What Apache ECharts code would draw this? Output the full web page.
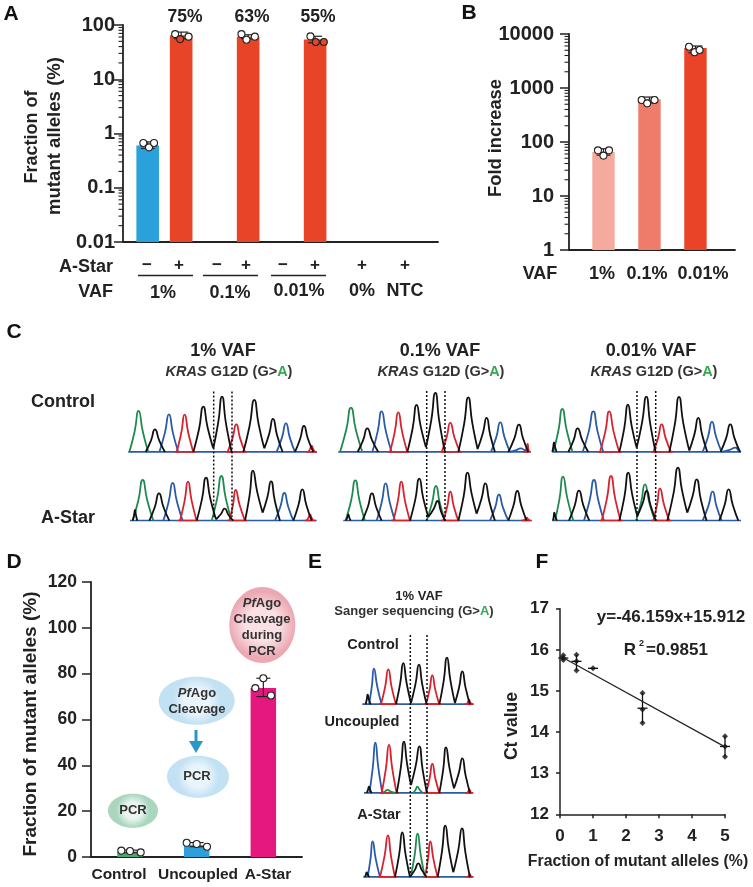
<!DOCTYPE html>
<html><head><meta charset="utf-8">
<style>html,body{margin:0;padding:0;background:#fff}#c{width:753px;height:887px}#c canvas{filter:blur(.3px)}</style>
<script src="https://cdn.jsdelivr.net/npm/echarts@6/dist/echarts.min.js"></script>
</head><body><div id="c"></div>
<script>
// ---------- Panel A ----------
const aBarX = [1, 2, 4, 6];
const aBarValues = [0.6, 64.5, 61, 54];
const aBarColors = ['#2ba1dc', '#e84427', '#e84427', '#e84427'];
const aErrors = [[1, 0.53, 0.7], [2, 56, 74], [4, 56, 66], [6, 47, 62]];
const aPointsWhite = [[0.87, 0.67], [1.04, 0.556], [1.19, 0.67], [1.82, 68], [2.22, 61], [3.8, 68], [3.95, 53.6], [4.2, 61], [5.86, 61.8]];
const aPointsFilled = [[1.97, 55], [6.02, 48.6], [6.26, 48.6]];
const aTickValues = [0.02,0.03,0.04,0.05,0.06,0.07,0.08,0.09,0.2,0.3,0.4,0.5,0.6,0.7,0.8,0.9,2,3,4,5,6,7,8,9,20,30,40,50,60,70,80,90];
const aPercentLabels = ['75%', '63%', '55%'];
const aSigns = ['−', '+', '−', '+', '−', '+', '+', '+'];
const aVaf = ['1%', '0.1%', '0.01%', '0%', 'NTC'];
// ---------- Panel B ----------
const bCategories = ['1%', '0.1%', '0.01%'];
const bBarValues = [65, 617, 5500];
const bBarColors = ['#f5aa9e', '#ef7c6b', '#e94328'];
const bErrors = [[1, 57, 75], [2, 530, 680], [3, 4500, 6000]];
const bPoints = [[0.88, 70], [1, 56], [1.12, 70], [1.83, 600], [1.95, 520], [2.11, 600], [2.86, 5800], [2.98, 4600], [3.09, 5060]];
const bTickValues = [2,3,4,5,6,7,8,9,20,30,40,50,60,70,80,90,200,300,400,500,600,700,800,900,2000,3000,4000,5000,6000,7000,8000,9000];
// ---------- Panel D ----------
const dCategories = ['Control', 'Uncoupled', 'A-Star'];
const dBarValues = [2.4, 5.2, 73.8];
const dBarColors = ['#4da672', '#2f9fdc', '#e5187f'];
const dErrors = [[1, 1.9, 3], [2, 4.5, 6.3], [3, 70, 78]];
const dPoints = [[0.87, 2.8], [1, 2.6], [1.16, 2.0], [1.85, 6.2], [2, 5.7], [2.155, 4.5], [2.88, 73.7], [3, 78], [3.115, 70.5]];
// ---------- Panel F ----------
const fPoints = [[0.1,15.75],[0.1,15.8],[0.1,15.87],[0.5,15.88],[0.5,15.72],[0.5,15.5],[1,15.55],[2.5,14.95],[2.5,14.55],[2.5,14.22],[5,13.9],[5,13.65],[5,13.4]];
const fMeans = [[0.1,15.8,15.75,15.87],[0.5,15.72,15.5,15.88],[1,15.55,15.55,15.55],[2.5,14.58,14.22,14.95],[5,13.65,13.4,13.9]];
const fFit = [[0,15.85],[5,13.64]];
// ---------- Chromatogram peaks: colour, left foot, apex, right foot, height, left level, right level ----------
const c1Control = [['g',3,31,60,124],['k',52,80,110,69],['b',93,122,150,114],['r',145,169,195,113],['k',195,225,255,137,0,12],['k',255,281,310,167,12,0],['r',298,324,350,84],['k',345,378,408,157,0,12],['k',408,434,463,100,12,0],['b',445,473,500,87],['k',500,527,555,79],['r',540,550,560,20]];
const c1Star = [['k',8,15,22,33],['g',8,38,70,123],['k',58,87,118,83],['b',100,128,158,114],['r',150,174,200,118],['k',200,228,258,130,0,5],['g',245,274,305,135],['k',258,284,310,37,5,0],['r',298,317,345,93],['k',345,369,398,151,0,25],['k',398,423,450,119,25,0],['b',435,463,490,84],['k',490,517,545,95],['r',530,540,550,20]];
const c2Control = [['g',5,38,72,134],['k',58,87,120,72],['b',102,130,160,123],['r',155,180,207,120],['k',207,235,263,142,0,15],['k',263,291,320,178,15,0],['r',310,336,365,88],['k',360,390,418,165,0,10],['k',418,445,470,103,10,0],['b',458,486,515,90],['k',510,542,570,83],['b',515,548,572,12],['r',560,568,572,25]];
const c2Star = [['k',8,15,22,20],['g',7,36,65,122],['k',57,86,115,83],['b',100,127,155,113],['r',150,174,200,118],['k',200,228,255,127,0,12],['g',250,278,305,105],['k',255,283,305,60,12,0],['r',300,321,345,88],['k',345,373,400,145,0,22],['k',400,426,455,113,22,0],['b',440,467,495,79],['k',495,522,550,90],['r',540,550,560,10]];
const c3Control = [['k',0,5,13,30],['g',3,30,61,130],['k',48,76,108,72],['b',91,123,153,123],['r',143,171,201,123],['k',201,227,253,143,0,14],['k',253,282,310,167,14,0],['r',303,328,356,84],['k',351,380,411,166,0,5],['k',411,438,465,103,5,0],['b',451,479,508,91],['k',505,534,563,84],['b',508,550,566,14]];
const c3Star = [['k',2,6,14,25],['g',8,32,63,133],['k',50,80,111,91],['b',95,125,155,123],['r',148,176,205,135],['k',201,228,255,145,0,15],['g',251,278,308,110],['k',255,283,311,90,15,0],['r',303,323,351,98],['k',345,377,405,160,0,25],['k',405,433,463,125,25,0],['b',451,481,508,88],['k',501,529,558,95]];
const eControl = [['k',10,16,25,30],['b',20,35,58,108],['r',56,78,101,106],['k',101,123,146,125,0,5],['k',146,170,193,120,5,0],['r',191,210,231,88],['k',231,254,278,141,0,5],['k',278,300,323,100,5,0],['r',313,320,328,15]];
const eUncoupled = [['k',8,15,23,20],['b',16,34,55,152],['r',53,75,98,145],['g',53,70,93,10],['k',98,120,141,155,0,25],['k',141,166,189,141,25,0],['g',148,160,176,20],['r',186,205,226,88],['k',226,246,270,138,0,15],['k',270,295,318,105,15,0],['r',310,316,322,12]];
const eStar = [['k',5,10,18,15],['b',13,28,50,108],['r',50,74,95,126],['k',95,117,140,135],['g',142,163,185,131],['k',140,165,190,42],['r',185,201,223,108],['k',223,246,270,155,0,15],['k',270,296,320,147,15,0],['r',314,319,325,10]];

const FONT = '"Liberation Sans", Arial, sans-serif';
const INK = '#222';
const traceColors = {g:'#1f8a4f', k:'#111111', b:'#2a5ba8', r:'#d8232e'};
const traces = [
 {peaks:c1Control, left:128.3, base:452.3, width:565},
 {peaks:c1Star, left:130, base:521, width:560},
 {peaks:c2Control, left:338.3, base:452.3, width:572},
 {peaks:c2Star, left:343.3, base:521, width:560},
 {peaks:c3Control, left:552.3, base:452.3, width:566},
 {peaks:c3Star, left:552.3, base:521, width:566},
 {peaks:eControl, left:362.3, base:704.7, width:333},
 {peaks:eUncoupled, left:364, base:793.3, width:323},
 {peaks:eStar, left:363.3, base:877.3, width:325}
];

const grids = [
 {left:123, top:25, width:315, height:217},
 {left:569, top:34, width:166, height:216},
 {left:91, top:582, width:211, height:275},
 {left:560, top:608.7, width:165, height:205.6}
];
const hiddenX = (i,min,max)=>({gridIndex:i, type:'value', min, max, show:true, splitLine:{show:false}, axisTick:{show:false}, axisLabel:{show:false}, axisLine:{onZero:false, lineStyle:{color:INK, width:1.8}}});
const xAxes = [
 hiddenX(0,0.263,9.67), hiddenX(1,0.25,3.86), hiddenX(2,0.415,3.58),
 {gridIndex:3, type:'value', min:0, max:5, interval:1, splitLine:{show:false}, axisTick:{length:4, lineStyle:{color:INK, width:1.5}}, axisLine:{onZero:false, lineStyle:{color:INK, width:1.5}}, axisLabel:{fontFamily:FONT, fontWeight:'bold', fontSize:17, color:INK, margin:14}}
];
const yLog = (i, min, max, margin) => ({gridIndex:i, type:'log', logBase:10, min, max, splitLine:{show:false}, minorTick:{show:false}, axisTick:{length:9, lineStyle:{color:INK, width:1.5}}, axisLine:{onZero:false, lineStyle:{color:INK, width:1.8}}, axisLabel:{fontFamily:FONT, fontWeight:'bold', fontSize:20, color:INK, margin, formatter:v=>String(v)}});
const yAxes = [
 yLog(0, 0.01, 100, 8), yLog(1, 1, 10000, 15),
 {gridIndex:2, type:'value', min:0, max:120, interval:20, splitLine:{show:false}, axisTick:{length:9, lineStyle:{color:INK, width:1.5}}, axisLine:{onZero:false, lineStyle:{color:INK, width:1.8}}, axisLabel:{fontFamily:FONT, fontWeight:'bold', fontSize:17.5, color:INK, margin:14}},
 {gridIndex:3, type:'value', min:12, max:17, interval:1, splitLine:{show:false}, axisTick:{length:4, lineStyle:{color:INK, width:1.5}}, axisLine:{onZero:false, lineStyle:{color:INK, width:1.5}}, axisLabel:{fontFamily:FONT, fontWeight:'bold', fontSize:17, color:INK, margin:11}}
];
const series = [];
const bars = (i, xs, vals, cols, w) => series.push({type:'bar', xAxisIndex:i, yAxisIndex:i, barWidth:w, silent:true, animation:false,
  data: xs.map((x,k)=>({value:[x,vals[k]], itemStyle:{color:cols[k]}}))});
// bars on a log axis are drawn down to the axis minimum
const logBars = (i, xs, vals, cols, w, yMin) => series.push({type:'custom', xAxisIndex:i, yAxisIndex:i, clip:false, silent:true, animation:false, z:2,
  data: xs.map((x,k)=>[x,vals[k]]), encode:{x:0,y:1},
  renderItem:(p,api)=>{const t=api.coord([api.value(0),api.value(1)]), b=api.coord([api.value(0),yMin]);
   return {type:'rect',shape:{x:t[0]-w/2,y:t[1],width:w,height:b[1]-t[1]},style:{fill:cols[p.dataIndex]}};}});
const errs = (i, data, cap) => series.push({type:'custom', xAxisIndex:i, yAxisIndex:i, clip:false, silent:true, animation:false, z:3, data,
  renderItem:(p,api)=>{const x=api.value(0), a=api.coord([x,api.value(1)]), b=api.coord([x,api.value(2)]);
   const st={stroke:'#222',lineWidth:1.2,fill:null};
   return {type:'group',children:[
    {type:'line',shape:{x1:a[0],y1:a[1],x2:b[0],y2:b[1]},style:st},
    {type:'line',shape:{x1:a[0]-cap,y1:a[1],x2:a[0]+cap,y2:a[1]},style:st},
    {type:'line',shape:{x1:b[0]-cap,y1:b[1],x2:b[0]+cap,y2:b[1]},style:st}]};},
  encode:{x:0,y:1}});
const dots = (i, data, fill) => series.push({type:'scatter', xAxisIndex:i, yAxisIndex:i, symbol:'circle', symbolSize:7, silent:true, animation:false, z:4, clip:false,
  itemStyle:{color:fill, borderColor:'#222', borderWidth:1.1, opacity:1}, data});
const minorTicks = (i, xMin, values) => series.push({type:'custom', xAxisIndex:i, yAxisIndex:i, clip:false, silent:true, animation:false,
  data: values.map(v=>[xMin,v]), encode:{x:0,y:1},
  renderItem:(p,api)=>{const c=api.coord([api.value(0),api.value(1)]);
   return {type:'line',shape:{x1:c[0]-4.5,y1:c[1],x2:c[0],y2:c[1]},style:{stroke:INK,lineWidth:1.1}};}});

logBars(0, aBarX, aBarValues, aBarColors, 22.6, 0.01);
minorTicks(0, 0.263, aTickValues);
errs(0, aErrors, 7);
dots(0, aPointsWhite, '#fff');
dots(0, aPointsFilled, '#e84427');

logBars(1, [1,2,3], bBarValues, bBarColors, 22.4, 1);
minorTicks(1, 0.25, bTickValues);
errs(1, bErrors, 7);
dots(1, bPoints, '#fff');

bars(2, [1,2,3], dBarValues, dBarColors, 25.5);
errs(2, dErrors, 7);
dots(2, dPoints, '#fff');

series.push({type:'line', xAxisIndex:3, yAxisIndex:3, data:fFit, symbol:'none', silent:true, animation:false, lineStyle:{color:'#222', width:1.2}});
series.push({type:'scatter', xAxisIndex:3, yAxisIndex:3, data:fPoints, symbol:'diamond', symbolSize:6, silent:true, animation:false, clip:false, itemStyle:{color:'#111'}});
series.push({type:'custom', xAxisIndex:3, yAxisIndex:3, clip:false, silent:true, animation:false, data:fMeans, encode:{x:0,y:1},
  renderItem:(p,api)=>{const x=api.value(0), m=api.coord([x,api.value(1)]), a=api.coord([x,api.value(2)]), b=api.coord([x,api.value(3)]);
   const st={stroke:'#111',lineWidth:1.3};
   return {type:'group',children:[
    {type:'line',shape:{x1:a[0],y1:a[1],x2:b[0],y2:b[1]},style:st},
    {type:'line',shape:{x1:m[0]-5,y1:m[1],x2:m[0]+5,y2:m[1]},style:st}]};}});

// chromatogram traces: each read peak is drawn as feet, flanks and apex
traces.forEach((t,idx)=>{
  const gi = grids.length;
  grids.push({left:t.left, top:t.base-200/3, width:t.width/3, height:200/3});
  xAxes.push({gridIndex:gi, type:'value', min:0, max:t.width, show:false});
  yAxes.push({gridIndex:gi, type:'value', min:0, max:200, show:false});
  const common = {type:'line', xAxisIndex:gi, yAxisIndex:gi, symbol:'none', silent:true, animation:false, clip:false};
  series.push({...common, data:[[0,1.5],[t.width,1.5]], lineStyle:{color:traceColors.b, width:1.7}, z:2});
  const redBase=[]; t.peaks.filter(p=>p[0]==='r').forEach(p=>{redBase.push([p[1]-6,1.5],[p[3]+6,1.5],[NaN,NaN]);});
  series.push({...common, data:redBase, lineStyle:{color:traceColors.r, width:1.7}, z:2});
  ['g','b','r','k'].forEach(col=>{
    const d=[]; t.peaks.filter(p=>p[0]===col).forEach(p=>{
      const [,l,a,r,h]=p, ll=p[5]||1, rl=p[6]||1;
      d.push([l,ll],[l+(a-l)*.57,ll+(h-ll)*.5],[a,h],[r-(r-a)*.57,rl+(h-rl)*.5],[r,rl],[NaN,NaN]);});
    series.push({...common, data:d, smooth:0.6, connectNulls:false, lineStyle:{color:traceColors[col], width:1.8}, z:3});
  });
});

// annotations
const T=(text,x,y,size,o={})=>({type:'text',x,y,rotation:o.rot||0,z:10,silent:true,style:{text,fontFamily:FONT,fontSize:size,fontWeight:o.w||'bold',fill:o.fill||INK,align:o.align||'center',verticalAlign:'middle',rich:o.rich}});
const L=(x1,y1,x2,y2,o={})=>({type:'line',z:9,silent:true,shape:{x1,y1,x2,y2},style:{stroke:o.c||'#222',lineWidth:o.w||1.4,lineDash:o.dash}});
const ROT=Math.PI/2;
const g=[];
[['A',11,14],['B',469,13],['C',14,332],['D',14,562],['E',315,562],['F',542,562]].forEach(a=>g.push(T(a[0],a[1],a[2],21,{fill:'#111'})));
// A
g.push(T('Fraction of',32,137,18,{rot:ROT}),T('mutant alleles (%)',55,136,18.6,{rot:ROT}));
[185,252,318].forEach((x,i)=>g.push(T(aPercentLabels[i],x,17,17.5)));
g.push(T('A-Star',113,267,18,{align:'right'}),T('VAF',113,292,18,{align:'right'}));
[147,179,217,246,283,315,362,405].forEach((x,i)=>g.push(T(aSigns[i],x,265,17)));
[[138,193],[203,258],[271,326]].forEach(s=>g.push(L(s[0],275.5,s[1],275.5)));
[[163,293],[230,293],[299,291],[362,291],[405,291]].forEach((p,i)=>g.push(T(aVaf[i],p[0],p[1],18)));
// B
g.push(T('Fold increase',496,138,18.3,{rot:ROT}),T('VAF',540,274,18));
[602,647,703].forEach((x,i)=>g.push(T(bCategories[i],x,274,18)));
// C
const kras=(x,y)=>T('{i|KRAS} G12D (G>{a|A})',x,y,14.5,{fill:'#333',rich:{i:{fontStyle:'italic',fontWeight:'bold',fontFamily:FONT,fontSize:14.5,fill:'#333'},a:{fontWeight:'bold',fontFamily:FONT,fontSize:14.5,fill:'#35a853'}}});
g.push(T('1% VAF',223,351,18),T('0.1% VAF',440,351,18),T('0.01% VAF',651,351,18),kras(229,372),kras(441,372),kras(654,372));
g.push(T('Control',63,402,18),T('A-Star',68,518,18));
[[213.7,391.5,517],[232,391.5,517],[426.7,391,521],[445,391,521],[637,391,521],[655.7,391,521]].forEach(d=>g.push(L(d[0],d[1],d[0],d[2],{dash:[2,2],w:1.5,c:'#111'})));
// D
g.push(T('Fraction of mutant alleles (%)',31,724,19,{rot:ROT}));
[119,198,268].forEach((x,i)=>g.push(T(dCategories[i],x,875,15.5)));
const bubble=(cx,cy,rx,ry,c0,c1)=>({type:'ellipse',z:5,silent:true,shape:{cx,cy,rx,ry},style:{fill:{type:'radial',x:.5,y:.5,r:.5,colorStops:[{offset:0,color:c0},{offset:.5,color:c0},{offset:1,color:c1}]}}});
g.push(bubble(133,810.7,25,17,'#e9f5ee','#a9d6bd'),bubble(196.7,700.7,38,24,'#eaf5fb','#c2e1f3'),bubble(198,776.7,31,21,'#eaf5fb','#c2e1f3'),bubble(262.3,625,33,38,'#fae0e4','#eca9b3'));
const pf=(x,y)=>T('{i|Pf}Ago',x,y,13,{fill:'#333',rich:{i:{fontStyle:'italic',fontWeight:'bold',fontFamily:FONT,fontSize:13,fill:'#333'}}});
g.push(T('PCR',133,810,13,{fill:'#333'}),pf(197,693),T('Cleavage',197,709,13,{fill:'#333'}),T('PCR',197,776,13,{fill:'#333'}),pf(262,603),T('Cleavage',262,619,13,{fill:'#333'}),T('during',262,635,13,{fill:'#333'}),T('PCR',262,651,13,{fill:'#333'}));
g.push(L(196,730,196,745,{w:3,c:'#2a98c6'}),{type:'polygon',z:9,silent:true,shape:{points:[[189,741],[203,741],[196,753]]},style:{fill:'#2a98c6'}});
// E
g.push(T('1% VAF',419,596,13),T('Sanger sequencing (G>{a|A})',414,611,13,{fill:'#333',rich:{a:{fontWeight:'bold',fontFamily:FONT,fontSize:13,fill:'#35a853'}}}));
g.push(T('Control',373,645,14.5),T('Uncoupled',362,722,14.5),T('A-Star',379,815,14.5));
[410.3,427].forEach(x=>g.push(L(x,635,x,875,{dash:[2,2],w:1.5,c:'#111'})));
// F
g.push(T('y=-46.159x+15.912',671,617.5,17),T('R',630,650,17),T('2',641.5,644,9),T('=0.9851',646,650,17,{align:'left'}));
g.push(T('Ct value',512,726,17.5,{rot:ROT}),T('Fraction of mutant alleles (%)',638,862,15.8));

const chart=echarts.init(document.getElementById('c'),null,{renderer:'canvas'});
chart.setOption({animation:false,backgroundColor:'#fff',grid:grids,xAxis:xAxes,yAxis:yAxes,series,graphic:{elements:g}});
</script></body></html>
